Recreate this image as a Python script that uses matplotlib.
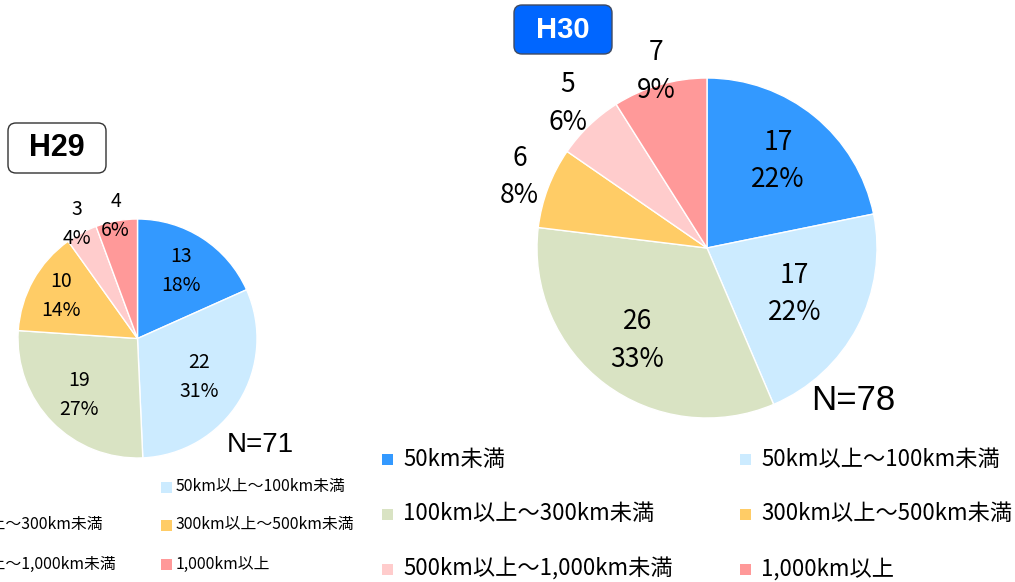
import matplotlib.pyplot as plt
import matplotlib.patches as mpatches
import numpy as np

plt.rcParams['font.family'] = ['Noto Sans CJK JP', 'DejaVu Sans']

categories = ['50km未満', '50km以上～100km未満', '100km以上～300km未満',
              '300km以上～500km未満', '500km以上～1,000km未満', '1,000km以上']
colors = ['#3399FF', '#CCEBFF', '#D9E3C3', '#FFCC66', '#FFCCCC', '#FF9999']

h29_values = [13, 22, 19, 10, 3, 4]
h30_values = [17, 17, 26, 6, 5, 7]

W, H = 1015, 582


def Y(y):
    # image-style y (top down) -> axes y
    return H - y


def draw_pie(ax, values, cx, cy, r, dists, fsize, lsp):
    total = sum(values)
    wedges, _ = ax.pie(values, colors=colors, startangle=90, counterclock=False,
                       center=(cx, Y(cy)), radius=r, frame=True,
                       wedgeprops=dict(edgecolor='white', linewidth=1))
    for w, v, d in zip(wedges, values, dists):
        mid = np.deg2rad((w.theta1 + w.theta2) / 2)
        x = cx + d * r * np.cos(mid)
        y = Y(cy) + d * r * np.sin(mid)
        ax.text(x, y, f"{v}\n{round(v / total * 100)}%", ha='center', va='center',
                fontsize=fsize, linespacing=lsp, color='black')
    return total


def draw_legend(ax, x_cols, y_rows, box, fsize, text_gap):
    for i, (cat, col) in enumerate(zip(categories, colors)):
        x0 = x_cols[i % 2]
        y0 = y_rows[i // 2]
        ax.add_patch(mpatches.Rectangle((x0, Y(y0) - box / 2), box, box,
                                        facecolor=col, edgecolor='none'))
        ax.text(x0 + box + text_gap, Y(y0), cat, ha='left', va='center',
                fontsize=fsize, color='black')


fig = plt.figure(figsize=(W / 100, H / 100), dpi=100)
ax = fig.add_axes([0, 0, 1, 1])

# H29 pie (left, partly cut off)
n29 = draw_pie(ax, h29_values, 137.5, 338.5, 119.5,
               [0.67, 0.61, 0.68, 0.73, 1.08, 1.04], 14, 1.5)
ax.text(260, Y(445), f"N={n29}", ha='center', va='center', fontsize=20,
        family='Liberation Sans')

# H30 pie (right)
n30 = draw_pie(ax, h30_values, 707, 248, 170,
               [0.66, 0.58, 0.68, 1.18, 1.18, 1.08], 19, 1.5)
ax.text(853, Y(401), f"N={n30}", ha='center', va='center', fontsize=25,
        family='Liberation Sans')

# legends
draw_legend(ax, [-90, 161], [487, 525, 564], 11, 11.4, 4)
draw_legend(ax, [382, 740], [459, 514, 569], 11, 16, 10)

# year tags
ax.add_patch(mpatches.FancyBboxPatch((8, Y(173)), 98, 50,
                                     boxstyle='round,pad=0,rounding_size=8',
                                     facecolor='white', edgecolor='#333333', linewidth=1))
ax.text(57, Y(148), 'H29', ha='center', va='center', fontsize=22,
        fontweight='bold', family='Liberation Sans')
ax.add_patch(mpatches.FancyBboxPatch((514, Y(54)), 98, 49,
                                     boxstyle='round,pad=0,rounding_size=8',
                                     facecolor='#0066FF', edgecolor='#404a60', linewidth=1))
ax.text(563, Y(30), 'H30', ha='center', va='center', fontsize=21,
        fontweight='bold', color='white', family='Liberation Sans')

ax.set_xlim(0, W)
ax.set_ylim(0, H)
ax.set_aspect('equal')
ax.axis('off')

fig.savefig('out.png', dpi=100)
